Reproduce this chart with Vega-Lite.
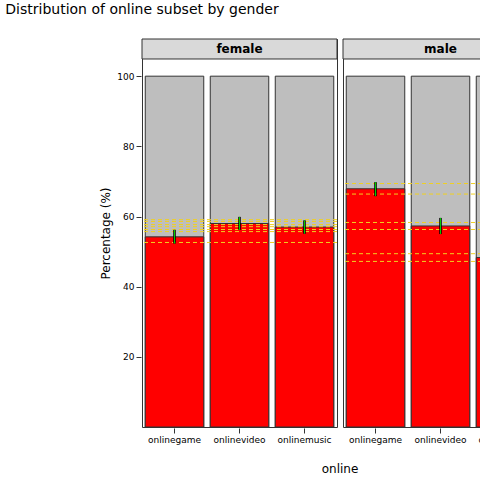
{
  "$schema": "https://vega.github.io/schema/vega-lite/v6.json",
  "title": {"text": "Distribution of online subset by gender", "fontSize": 14, "fontWeight": "normal", "font": "DejaVu Sans", "offset": 21, "anchor": "middle", "frame": "group"},
  "background": "white",
  "padding": {"left": 5, "top": 3, "right": 30, "bottom": 5},
  "config": {"font": "DejaVu Sans", "view": {"stroke": "#333"}},
  "data": {"values": [
    {"kind": "bar", "gender": "female", "item": "onlinegame", "pct": 54.2, "lo": 52.3, "hi": 56.2},
    {"kind": "bar", "gender": "female", "item": "onlinevideo", "pct": 58.0, "lo": 56.2, "hi": 59.9},
    {"kind": "bar", "gender": "female", "item": "onlinemusic", "pct": 57.0, "lo": 55.1, "hi": 58.9},
    {"kind": "bar", "gender": "male", "item": "onlinegame", "pct": 67.9, "lo": 65.8, "hi": 69.8},
    {"kind": "bar", "gender": "male", "item": "onlinevideo", "pct": 57.3, "lo": 55.0, "hi": 59.6},
    {"kind": "bar", "gender": "male", "item": "onlinemusic", "pct": 48.3, "lo": 46.0, "hi": 50.6},
    {"kind": "line", "gender": "female", "ref": 59.1},
    {"kind": "line", "gender": "female", "ref": 58.6},
    {"kind": "line", "gender": "female", "ref": 57.7},
    {"kind": "line", "gender": "female", "ref": 57.1},
    {"kind": "line", "gender": "female", "ref": 56.3},
    {"kind": "line", "gender": "female", "ref": 55.7},
    {"kind": "line", "gender": "female", "ref": 52.6},
    {"kind": "line", "gender": "male", "ref": 69.4},
    {"kind": "line", "gender": "male", "ref": 66.4},
    {"kind": "line", "gender": "male", "ref": 58.3},
    {"kind": "line", "gender": "male", "ref": 56.3},
    {"kind": "line", "gender": "male", "ref": 49.4},
    {"kind": "line", "gender": "male", "ref": 47.2},
    {"kind": "strip", "gender": "female", "s0": 104.9, "s1": 110.6, "mid": 107.75},
    {"kind": "strip", "gender": "male", "s0": 104.9, "s1": 110.6, "mid": 107.75}
  ]},
  "facet": {"column": {"field": "gender", "type": "nominal", "header": {"title": "online", "titleOrient": "bottom", "titleFontSize": 12, "titleFontWeight": "normal", "labels": false}}},
  "spacing": 4,
  "spec": {
    "width": 195,
    "height": 388,
    "encoding": {
      "x": {"field": "item", "type": "nominal", "sort": ["onlinegame", "onlinevideo", "onlinemusic"],
        "scale": {"paddingInner": 0.1, "paddingOuter": 0.05},
        "axis": {"title": null, "labelAngle": 0, "labelFontSize": 9, "domain": false, "tickColor": "#333"}},
      "y": {"type": "quantitative", "scale": {"domain": [0, 110.6], "nice": false},
        "axis": {"title": "Percentage (%)", "titleFontSize": 12, "titleFontWeight": "normal", "values": [20, 40, 60, 80, 100], "grid": false, "labelFontSize": 9, "domain": false, "tickColor": "#333"}}
    },
    "layer": [
      {"transform": [{"filter": "datum.kind == 'bar'"}], "mark": {"type": "bar", "color": "#bebebe", "stroke": "#333", "strokeWidth": 1},
        "encoding": {"y": {"datum": 100}, "y2": {"datum": 0}}},
      {"transform": [{"filter": "datum.kind == 'bar'"}], "mark": {"type": "bar", "color": "#ff0000", "stroke": "#333", "strokeWidth": 1},
        "encoding": {"y": {"field": "pct"}, "y2": {"datum": 0}}},
      {"transform": [{"filter": "datum.kind == 'line'"}], "mark": {"type": "rule", "color": "#f0d020", "strokeDash": [4, 3], "strokeWidth": 1},
        "encoding": {"x": null, "y": {"field": "ref"}}},
      {"transform": [{"filter": "datum.kind == 'bar'"}], "mark": {"type": "rule", "color": "black", "strokeWidth": 2.5},
        "encoding": {"y": {"field": "lo"}, "y2": {"field": "hi"}}},
      {"transform": [{"filter": "datum.kind == 'bar'"}], "mark": {"type": "rule", "color": "#00cc00", "strokeWidth": 1},
        "encoding": {"y": {"field": "lo"}, "y2": {"field": "hi"}}},
      {"transform": [{"filter": "datum.kind == 'strip'"}], "mark": {"type": "rect", "color": "#d9d9d9", "stroke": "#333", "strokeWidth": 1},
        "encoding": {"x": null, "y": {"field": "s0"}, "y2": {"field": "s1"}}},
      {"transform": [{"filter": "datum.kind == 'strip'"}], "mark": {"type": "text", "fontWeight": "bold", "fontSize": 12, "color": "black"},
        "encoding": {"x": null, "y": {"field": "mid"}, "text": {"field": "gender"}}}
    ]
  }
}
